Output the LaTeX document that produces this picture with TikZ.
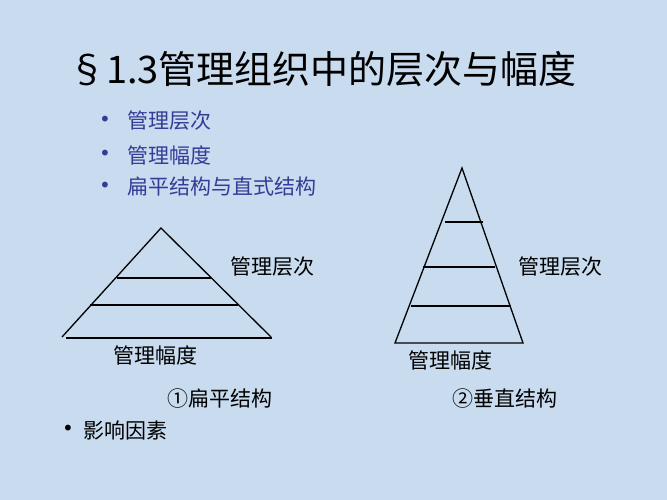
\documentclass[tikz,border=0pt]{standalone}
\usepackage{fontspec}
\setmainfont{Noto Sans CJK SC}
\newfontfamily\cjk{Noto Sans CJK SC}
\newfontfamily\dv{DejaVu Sans}
\definecolor{bgblue}{RGB}{200,219,239}
\definecolor{txtblue}{RGB}{52,60,150}
\tikzset{
  titletext/.style={anchor=west, inner sep=0pt, font=\cjk\fontsize{38}{40}\selectfont},
  bullettext/.style={anchor=west, inner sep=0pt, text=txtblue, font=\cjk\fontsize{21}{24}\selectfont},
  bulletdot/.style={anchor=center, inner sep=0pt, font=\dv\fontsize{20}{22}\selectfont},
  label/.style={anchor=west, inner sep=0pt, font=\cjk\fontsize{21}{24}\selectfont},
  pyr/.style={line width=1.3pt, line join=miter},
  tier/.style={line width=1.3pt}
}
\begin{document}
\begin{tikzpicture}[x=1pt,y=-1pt]
\useasboundingbox (0,0) rectangle (667,500);
\fill[bgblue] (0,0) rectangle (667,500);

% title
\node[titletext] (title) at (68,69) {§1.3管理组织中的层次与幅度};

% bullets
\node[bulletdot, text=txtblue] (b1) at (105,121) {•};
\node[bullettext] (t1) at (127,121) {管理层次};
\node[bulletdot, text=txtblue] (b2) at (105,155) {•};
\node[bullettext] (t2) at (127,155) {管理幅度};
\node[bulletdot, text=txtblue] (b3) at (105,187) {•};
\node[bullettext] (t3) at (127,187) {扁平结构与直式结构};

% left pyramid (flat)
\coordinate (La) at (161,228);
\coordinate (Ll) at (62,337);
\coordinate (Lr) at (271,337);
\coordinate (Lb1) at (66,338);
\coordinate (Lb2) at (272,338);
\coordinate (L1a) at (117,278);
\coordinate (L1b) at (211,278);
\coordinate (L2a) at (90,305);
\coordinate (L2b) at (238,305);
\draw[pyr] (Ll) -- (La) -- (Lr);
\draw[tier] (Lb1) -- (Lb2);
\draw[tier] (L1a) -- (L1b);
\draw[tier] (L2a) -- (L2b);
\node[label] (lh) at (230,267) {管理层次};
\node[label] (lw) at (113,355) {管理幅度};
\node[label] (lc) at (167,399) {①扁平结构};

% right pyramid (tall)
\coordinate (Ra) at (462,168);
\coordinate (Rl) at (395,343);
\coordinate (Rr) at (523,343);
\coordinate (R1a) at (445,222);
\coordinate (R1b) at (483,222);
\coordinate (R2a) at (423,267);
\coordinate (R2b) at (495,267);
\coordinate (R3a) at (411,306);
\coordinate (R3b) at (511,306);
\draw[pyr] (Rl) -- (Ra) -- (Rr) -- cycle;
\draw[tier] (R1a) -- (R1b);
\draw[tier] (R2a) -- (R2b);
\draw[tier] (R3a) -- (R3b);
\node[label] (rh) at (518,267) {管理层次};
\node[label] (rw) at (408,360) {管理幅度};
\node[label] (rc) at (452,399) {②垂直结构};

% last bullet
\node[bulletdot] (b4) at (68,430) {•};
\node[label] (t4) at (83,430) {影响因素};
\end{tikzpicture}
\end{document}
